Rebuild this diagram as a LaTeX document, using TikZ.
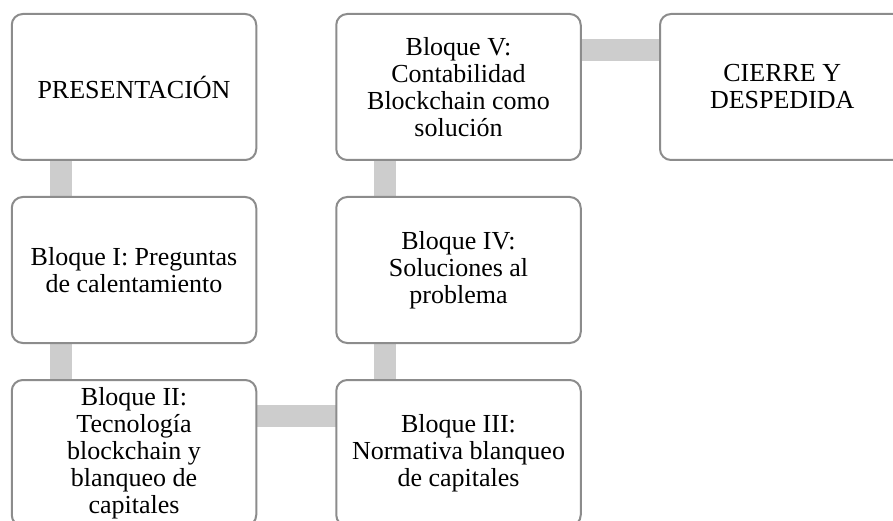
\documentclass[tikz,border=0pt]{standalone}
\usepackage{fontspec}
\setmainfont{Liberation Serif}
\usetikzlibrary{backgrounds}
\definecolor{boxline}{HTML}{8C8C8C}
\definecolor{connfill}{HTML}{CDCDCD}
\tikzset{
  blockbox/.style={draw=boxline, line width=2pt, fill=white, rounded corners=11pt,
    minimum width=244.5pt, minimum height=146pt, inner sep=0pt, outer sep=0pt,
    align=center, font=\fontsize{26}{27}\selectfont},
  conn/.style={draw=connfill, line width=22pt}
}
\begin{document}
\begin{tikzpicture}[x=1pt,y=-1pt]
\useasboundingbox (0,0) rectangle (893,521);
\node[blockbox] (pres) at (134,87) {PRESENTACIÓN};
\node[blockbox] (b1) at (134,270) {Bloque I: Preguntas\\de calentamiento};
\node[blockbox] (b2) at (134,453) {Bloque II:\\Tecnología\\blockchain y\\blanqueo de\\capitales};
\node[blockbox] (b3) at (458.5,453) {Bloque III:\\Normativa blanqueo\\de capitales};
\node[blockbox] (b4) at (458.5,270) {Bloque IV:\\Soluciones al\\problema};
\node[blockbox] (b5) at (458.5,87) {Bloque V:\\Contabilidad\\Blockchain como\\solución};
\node[blockbox] (cierre) at (782.25,87) {CIERRE Y\\DESPEDIDA};
\begin{scope}[on background layer]
\draw[conn] ([xshift=49pt]pres.south west) -- ([xshift=49pt]b1.north west);
\draw[conn] ([xshift=49pt]b1.south west) -- ([xshift=49pt]b2.north west);
\draw[conn] ([yshift=-36pt]b2.north east) -- ([yshift=-36pt]b3.north west);
\draw[conn] ([xshift=49pt]b3.north west) -- ([xshift=49pt]b4.south west);
\draw[conn] ([xshift=49pt]b4.north west) -- ([xshift=49pt]b5.south west);
\draw[conn] ([yshift=-36pt]b5.north east) -- ([yshift=-36pt]cierre.north west);
\end{scope}
\end{tikzpicture}
\end{document}
